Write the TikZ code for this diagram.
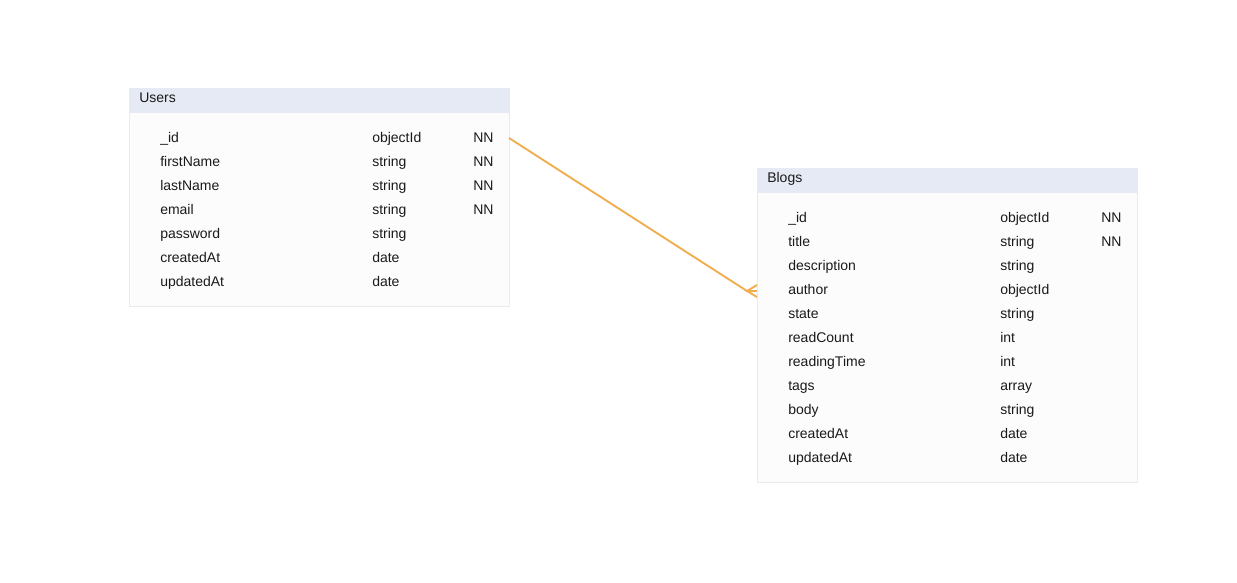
\documentclass[tikz,border=0pt]{standalone}
\usepackage{fontspec}
\setmainfont{Liberation Sans}
\definecolor{hdr}{HTML}{E6EAF4}
\definecolor{bodyc}{HTML}{FCFCFD}
\definecolor{brd}{HTML}{E8EAF0}
\definecolor{rel}{HTML}{F0AD4E}
\definecolor{txt}{HTML}{1A1A1A}
\begin{document}
\begin{tikzpicture}[x=0.75pt,y=-0.75pt,
  tbody/.style={fill=bodyc,draw=brd,line width=0.75pt},
  thead/.style={fill=hdr},
  cell/.style={anchor=base west,inner sep=0pt,font=\fontsize{10.5}{12}\selectfont,text=txt},
  relline/.style={draw=rel,line width=1.4pt}]
\useasboundingbox (0,0) rectangle (1237,582);
% Users
\path[tbody] (129,88) rectangle (509,306);
\path[thead] (129.4,88) rectangle (508.6,113);
\node[cell] (uh) at (139,102) {Users};
\foreach \n/\t/\k [count=\i from 0] in {\_id/objectId/NN,firstName/string/NN,lastName/string/NN,email/string/NN,password/string/,createdAt/date/,updatedAt/date/}{
  \node[cell] (un\i) at (160,142+24*\i) {\n};
  \node[cell] (ut\i) at (372,142+24*\i) {\t};
  \node[cell] (uk\i) at (473,142+24*\i) {\k};
}
% Blogs
\path[tbody] (757,168) rectangle (1137,482);
\path[thead] (757.4,168) rectangle (1136.6,193);
\node[cell] (bh) at (767,182) {Blogs};
\foreach \n/\t/\k [count=\i from 0] in {\_id/objectId/NN,title/string/NN,description/string/,author/objectId/,state/string/,readCount/int/,readingTime/int/,tags/array/,body/string/,createdAt/date/,updatedAt/date/}{
  \node[cell] (bn\i) at (788,222+24*\i) {\n};
  \node[cell] (bt\i) at (1000,222+24*\i) {\t};
  \node[cell] (bk\i) at (1101,222+24*\i) {\k};
}
% relation
\coordinate (ua) at (509,138);
\coordinate (bf) at (747,291);
\coordinate (b1) at (757,285);
\coordinate (b2) at (757,291);
\coordinate (b3) at (757,297);
\draw[relline] (ua) -- (bf);
\draw[relline] (b1) -- (bf) -- (b3);
\draw[relline] (bf) -- (b2);
\end{tikzpicture}
\end{document}
